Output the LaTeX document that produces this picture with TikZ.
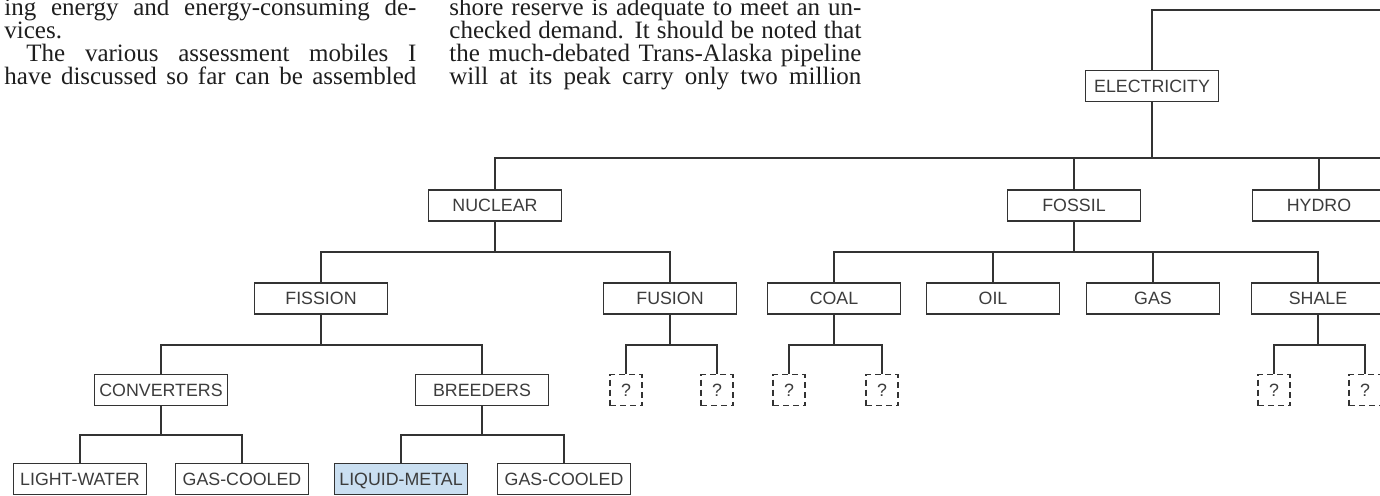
\documentclass[tikz,border=0pt]{standalone}
\usepackage{fontspec}
\setmainfont{Liberation Serif}
\newfontfamily\chartsans{Liberation Sans}
\usepackage{xcolor}
\definecolor{linegray}{HTML}{333333}
\definecolor{labelgray}{HTML}{3C3C3C}
\definecolor{inkblack}{HTML}{1E1E1E}
\definecolor{metalblue}{HTML}{CADFF1}
\usepackage{tikz}
\usetikzlibrary{positioning}

\newcommand{\bodyfont}{\fontsize{12.5pt}{11.5pt}\selectfont}
\newcommand{\labelfont}{\chartsans\fontsize{8.9pt}{9pt}\selectfont}

\begin{document}
\begin{tikzpicture}[
    x=0.5pt, y=-0.5pt,
    box/.style={
        rectangle, draw=linegray, line width=0.9pt, fill=white,
        minimum width=66.5pt, minimum height=15.5pt, inner sep=0pt,
        text height=6.4pt, text depth=0pt,
        font=\labelfont, text=labelgray
    },
    qbox/.style={box, minimum width=16pt, dash pattern=on 3pt off 2pt},
    link/.style={draw=linegray, line width=1pt},
    txt/.style={anchor=base west, inner sep=0pt, font=\bodyfont, text=inkblack}
]
\useasboundingbox (0,0) rectangle (1380,495);
\clip (0,0) rectangle (1380,495);

% --- Texte courant au-dessus ---
\node[txt] (colAa) at (4,15)  {\makebox[206pt][s]{ing energy and energy-consuming de-}};
\node[txt] (colAb) at (4,38)  {vices.};
\node[txt] (colAc) at (26,61) {\makebox[195pt][s]{The various assessment mobiles I}};
\node[txt] (colAd) at (4,84)  {\makebox[206pt][s]{have discussed so far can be assembled}};
\node[txt] (colBa) at (449,15) {\makebox[206pt][s]{shore reserve is adequate to meet an un-}};
\node[txt] (colBb) at (449,38) {\makebox[206pt][s]{checked demand. It should be noted that}};
\node[txt] (colBc) at (449,61) {\makebox[206pt][s]{the much-debated Trans-Alaska pipeline}};
\node[txt] (colBd) at (449,84) {\makebox[206pt][s]{will at its peak carry only two million}};

% --- Niveaux des barres ---
\coordinate (top)     at (0,10);
\coordinate (topend)  at (1400,10);
\coordinate (bus1)    at (0,158);
\coordinate (bus1end) at (1400,158);
\coordinate (bus2)    at (0,252);
\coordinate (bus3)    at (0,345);
\coordinate (bus4)    at (0,435);

% --- Noeuds ---
\node[box] (elec)    at (1152,86)    {ELECTRICITY};
\node[box] (nuclear) at (495,205.5)  {NUCLEAR};
\node[box] (fossil)  at (1074,205.5) {FOSSIL};
\node[box] (hydro)   at (1319,205.5) {HYDRO};

\node[box] (fission) at (321,298.5)  {FISSION};
\node[box] (fusion)  at (670,298.5)  {FUSION};
\node[box] (coal)    at (834,298.5)  {COAL};
\node[box] (oil)     at (993,298.5)  {OIL};
\node[box] (gas)     at (1153,298.5) {GAS};
\node[box] (shale)   at (1318,298.5) {SHALE};

\node[box]  (conv)   at (161,390)  {CONVERTERS};
\node[box]  (breed)  at (482,390)  {BREEDERS};
\node[qbox] (fusA)   at (626,390)  {?};
\node[qbox] (fusB)   at (717,390)  {?};
\node[qbox] (coalA)  at (789,390)  {?};
\node[qbox] (coalB)  at (882,390)  {?};
\node[qbox] (shaleA) at (1274,390) {?};
\node[qbox] (shaleB) at (1365,390) {?};

\node[box] (lwr)  at (80,479)  {LIGHT-WATER};
\node[box] (gcr)  at (242,479) {GAS-COOLED};
\node[box, fill=metalblue] (lmr) at (401,479) {LIQUID-METAL};
\node[box] (gcfr) at (564,479) {GAS-COOLED};

% 1. Electricity
\draw[link] (elec.north) |- (topend);
\draw[link] (elec.south) -- (elec.south |- bus1);
\draw[link] (nuclear.north) |- (bus1end);
\draw[link] (fossil.north) -- (fossil.north |- bus1);
\draw[link] (hydro.north) -- (hydro.north |- bus1);

% 2. Nuclear et fossil
\draw[link] (nuclear.south) -- (nuclear.south |- bus2);
\draw[link] (fission.north) |- (fusion.north |- bus2) -- (fusion.north);
\draw[link] (fossil.south) -- (fossil.south |- bus2);
\draw[link] (coal.north) |- (shale.north |- bus2) -- (shale.north);
\draw[link] (oil.north) -- (oil.north |- bus2);
\draw[link] (gas.north) -- (gas.north |- bus2);

% 3. Fission, fusion, coal, shale
\draw[link] (fission.south) -- (fission.south |- bus3);
\draw[link] (conv.north) |- (breed.north |- bus3) -- (breed.north);
\draw[link] (fusion.south) -- (fusion.south |- bus3);
\draw[link] (fusA.north) |- (fusB.north |- bus3) -- (fusB.north);
\draw[link] (coal.south) -- (coal.south |- bus3);
\draw[link] (coalA.north) |- (coalB.north |- bus3) -- (coalB.north);
\draw[link] (shale.south) -- (shale.south |- bus3);
\draw[link] (shaleA.north) |- (shaleB.north |- bus3) -- (shaleB.north);

% 4. Converters et breeders
\draw[link] (conv.south) -- (conv.south |- bus4);
\draw[link] (lwr.north) |- (gcr.north |- bus4) -- (gcr.north);
\draw[link] (breed.south) -- (breed.south |- bus4);
\draw[link] (lmr.north) |- (gcfr.north |- bus4) -- (gcfr.north);

\end{tikzpicture}
\end{document}
